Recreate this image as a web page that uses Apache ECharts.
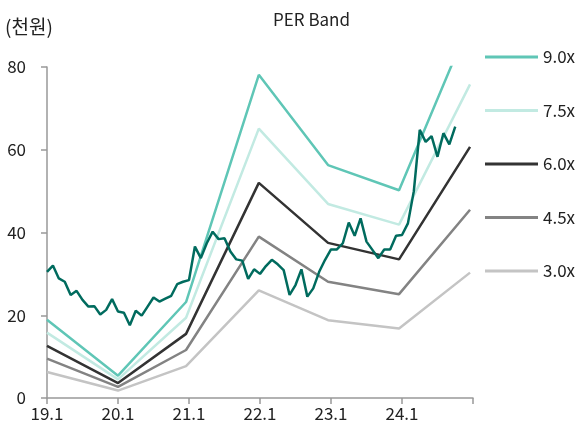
<!DOCTYPE html>
<html>
<head>
<meta charset="utf-8">
<script src="https://cdn.jsdelivr.net/npm/echarts@6/dist/echarts.min.js"></script>
<style>
  html, body { margin: 0; padding: 0; background: #fff; }
  #chart { width: 579px; height: 428px; }
</style>
</head>
<body>
<div id="chart"></div>
<script>
// x축 눈금 (월 단위, 12개월마다)
const tickLabels = ['19.1', '20.1', '21.1', '22.1', '23.1', '24.1'];

// 밴드 꺾임점 위치 (19.1부터 경과 월)
const bandMonths = [0, 12, 23.5, 35.8, 47.5, 59.5, 71.5];

const band90 = [18.9, 5.4, 23.2, 78.1, 56.3, 50.2, 91.0];
const band75 = [15.8, 4.5, 19.4, 65.1, 46.9, 41.9, 75.8];
const band60 = [12.6, 3.6, 15.5, 52.0, 37.5, 33.5, 60.7];
const band45 = [9.5, 2.7, 11.6, 39.0, 28.1, 25.1, 45.5];
const band30 = [6.3, 1.8, 7.7, 26.0, 18.8, 16.8, 30.3];

// 월별 주가 (천원), 19.1부터
const price = [
  30.5, 32.0, 28.9, 28.1, 24.9, 25.9, 23.7, 22.1, 22.2, 20.2, 21.3, 23.9,
  20.9, 20.6, 17.6, 21.1, 19.9, 22.1, 24.3, 23.3, 24.0, 24.7, 27.5, 28.1,
  28.5, 36.6, 33.8, 37.4, 40.2, 38.4, 38.6, 35.4, 33.5, 33.2, 28.8, 31.1,
  30.0, 31.9, 33.4, 32.3, 30.9, 24.9, 27.3, 31.1, 24.5, 26.5, 30.5, 33.4,
  35.9, 35.9, 37.4, 42.4, 39.2, 43.4, 37.8, 35.8, 33.8, 35.9, 35.9, 39.2,
  39.4, 42.2, 50.0, 64.8, 61.9, 63.3, 58.3, 64.0, 61.3, 65.6
];

const font = '"Noto Sans CJK KR", "Noto Sans", sans-serif';

function pairs(xs, ys) {
  return ys.map((v, i) => [xs[i], v]);
}

const bands = [
  { name: '9.0x', data: band90, color: '#5fc6b6' },
  { name: '7.5x', data: band75, color: '#c2eae2' },
  { name: '6.0x', data: band60, color: '#333333' },
  { name: '4.5x', data: band45, color: '#838383' },
  { name: '3.0x', data: band30, color: '#c4c4c4' }
];

const series = bands.map(b => ({
  name: b.name,
  type: 'line',
  data: pairs(bandMonths, b.data),
  symbol: 'none',
  clip: true,
  lineStyle: { color: b.color, width: 2.5 },
  itemStyle: { color: b.color },
  z: 2
}));

series.push({
  name: '주가',
  type: 'line',
  data: price.map((v, i) => [i, v]),
  symbol: 'none',
  lineStyle: { color: '#006b5e', width: 2.5 },
  itemStyle: { color: '#006b5e' },
  z: 3
});

const chart = echarts.init(document.getElementById('chart'));
chart.setOption({
  animation: false,
  title: {
    text: 'PER Band',
    left: 268,
    top: 6,
    textStyle: { fontFamily: font, fontSize: 17, fontWeight: 'normal', color: '#222' }
  },
  graphic: [{
    type: 'text',
    left: 5,
    top: 17,
    style: { text: '(천원)', font: '19px ' + font, fill: '#222' }
  }],
  legend: {
    data: bands.map(b => b.name),
    orient: 'vertical',
    left: 480,
    top: 42,
    icon: 'rect',
    itemWidth: 53,
    itemHeight: 3,
    itemGap: 33.5,
    textStyle: { fontFamily: font, fontSize: 17, color: '#222', lineHeight: 20, padding: [0, 0, 0, 0] }
  },
  grid: { left: 47, right: 106, top: 67, bottom: 30, containLabel: false },
  xAxis: {
    type: 'value',
    min: 0,
    max: 72,
    interval: 12,
    splitLine: { show: false },
    axisLine: { lineStyle: { color: '#999', width: 1.5 } },
    axisTick: { lineStyle: { color: '#999', width: 1.5 }, length: 6 },
    axisLabel: {
      fontFamily: font, fontSize: 17, color: '#222', margin: 7,
      formatter: v => tickLabels[v / 12] || ''
    }
  },
  yAxis: {
    type: 'value',
    min: 0,
    max: 80,
    interval: 20,
    splitLine: { show: false },
    axisLine: { show: true, lineStyle: { color: '#999', width: 1.5 } },
    axisTick: { show: true, lineStyle: { color: '#999', width: 1.5 }, length: 6 },
    axisLabel: { fontFamily: font, fontSize: 17, color: '#222', margin: 21 }
  },
  series: series
});
</script>
</body>
</html>
